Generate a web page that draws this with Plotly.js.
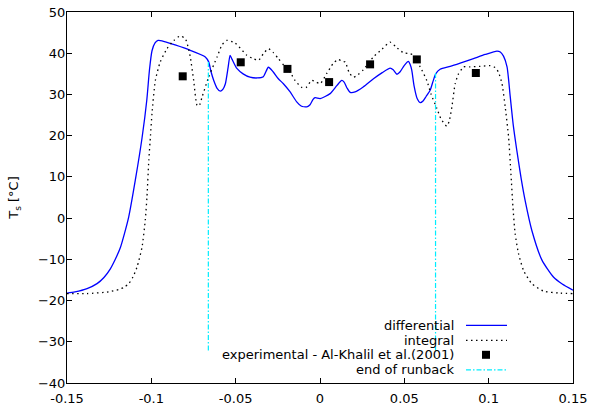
<!DOCTYPE html>
<html>
<head>
<meta charset="utf-8">
<script src="https://cdn.plot.ly/plotly-3.0.1.min.js"></script>
<style>html,body{margin:0;padding:0;background:#fff;}#chart{width:590px;height:411px;}</style>
</head>
<body>
<div id="chart"></div>
<script>
// Differential model (solid blue)
const diffX = [-0.1500,-0.1453,-0.1381,-0.1322,-0.1281,-0.1243,-0.1215,-0.1184,-0.1159,-0.1134,-0.1095,-0.1055,-0.1027,-0.1011,-0.0996,-0.0978,-0.0960,-0.0937,-0.0859,-0.0769,-0.0680,-0.0660,-0.0646,-0.0630,-0.0610,-0.0591,-0.0575,-0.0561,-0.0545,-0.0533,-0.0521,-0.0493,-0.0456,-0.0415,-0.0373,-0.0336,-0.0306,-0.0278,-0.0247,-0.0217,-0.0177,-0.0138,-0.0112,-0.0078,-0.0059,-0.0041,-0.0029,0.0001,0.0060,0.0101,0.0129,0.0143,0.0161,0.0179,0.0208,0.0256,0.0317,0.0369,0.0416,0.0434,0.0456,0.0475,0.0499,0.0524,0.0534,0.0544,0.0558,0.0576,0.0594,0.0611,0.0629,0.0653,0.0671,0.0686,0.0712,0.0772,0.0831,0.0910,0.0980,0.1049,0.1069,0.1088,0.1109,0.1128,0.1146,0.1167,0.1193,0.1216,0.1256,0.1316,0.1384,0.1436,0.1500];
const diffY = [-18.2,-17.9,-17.1,-15.9,-14.4,-12.3,-10.1,-7.2,-3.7,0.3,9.2,19.5,28.6,36.0,40.6,42.5,43.1,43.0,42.0,40.7,39.1,37.9,35.5,33.4,31.5,30.8,31.3,32.6,36.5,39.5,38.5,36.3,35.0,34.2,34.0,34.3,36.6,35.5,33.8,32.6,30.6,28.2,27.2,27.0,27.5,28.8,29.2,29.0,30.2,32.2,33.4,33.0,31.5,30.5,30.6,31.8,33.8,35.3,36.4,36.0,34.9,35.5,37.0,38.0,37.3,35.9,32.0,29.0,28.0,28.4,29.5,31.0,33.3,35.0,36.1,36.8,37.6,38.7,39.7,40.5,40.3,39.3,36.7,29.4,22.5,16.4,9.5,4.3,-3.0,-10.2,-14.3,-16.0,-17.5];

// Integral model (dotted black)
const intX = [-0.1500,-0.1381,-0.1253,-0.1193,-0.1162,-0.1134,-0.1109,-0.1085,-0.1055,-0.1036,-0.1026,-0.1015,-0.1005,-0.0996,-0.0976,-0.0947,-0.0907,-0.0867,-0.0828,-0.0798,-0.0782,-0.0769,-0.0749,-0.0729,-0.0717,-0.0699,-0.0660,-0.0610,-0.0581,-0.0553,-0.0504,-0.0434,-0.0403,-0.0365,-0.0337,-0.0306,-0.0278,-0.0247,-0.0213,-0.0177,-0.0148,-0.0108,-0.0082,-0.0049,-0.0023,0.0001,0.0040,0.0078,0.0109,0.0131,0.0149,0.0173,0.0198,0.0226,0.0257,0.0317,0.0368,0.0416,0.0451,0.0495,0.0534,0.0554,0.0594,0.0633,0.0659,0.0693,0.0718,0.0752,0.0766,0.0782,0.0801,0.0819,0.0843,0.0851,0.0890,0.0950,0.1009,0.1039,0.1058,0.1079,0.1098,0.1118,0.1132,0.1144,0.1157,0.1177,0.1207,0.1256,0.1325,0.1424,0.1500];
const intY = [-18.3,-18.3,-17.9,-17.3,-16.8,-15.9,-14.3,-11.9,-7.0,-0.5,5.1,14.0,20.0,25.4,33.4,37.9,41.1,43.1,44.2,43.5,41.5,39.1,33.4,27.4,27.2,29.4,34.2,39.1,42.0,43.1,42.5,39.5,38.8,38.3,39.8,41.1,40.2,38.7,37.0,35.4,33.4,31.7,31.7,33.4,33.0,32.6,35.1,37.5,38.5,38.0,37.9,35.3,34.2,34.8,36.0,39.1,41.0,42.7,41.5,40.1,39.9,39.5,36.7,33.4,30.0,26.6,24.0,22.3,23.5,27.0,32.5,34.8,36.3,36.7,36.7,36.8,37.0,36.5,35.4,32.6,27.0,19.7,10.8,2.7,-3.8,-8.6,-12.7,-15.9,-17.7,-18.2,-18.3];

// Experimental data - Al-Khalil et al. (2001)
const expX = [-0.0814,-0.0470,-0.0193,0.0054,0.0297,0.0574,0.0924];
const expY = [34.4,37.8,36.2,33.0,37.3,38.5,35.2];

// End of runback markers
const runbackX = [-0.0662,0.0685];
const runbackTop = [37.9,35.2];
const runbackBottom = -32.1;

// Axis ticks
const xTicks = [-0.15,-0.1,-0.05,0,0.05,0.1,0.15];
const xTickText = ['-0.15','-0.1','-0.05','0','0.05','0.1','0.15'];
const yTicks = [-40,-30,-20,-10,0,10,20,30,40,50];

const legendLabels = ['differential','integral','experimental - Al-Khalil et al.(2001)','end of runback'];

const BLUE = '#0000ff';
const CYAN = '#00eeff';
const FONT = 'DejaVu Sans, sans-serif';

const traces = [
  {x: diffX, y: diffY, mode:'lines', line:{color:BLUE, width:1.3, shape:'spline', smoothing:0.6}, showlegend:false, hoverinfo:'skip'},
  {x: intX, y: intY, mode:'lines', line:{color:'#000', width:1.3, dash:'1.5px,3.5px', shape:'spline', smoothing:0.6}, showlegend:false, hoverinfo:'skip'},
  {x: expX, y: expY, mode:'markers', marker:{symbol:'square', size:8, color:'#000'}, showlegend:false, hoverinfo:'skip'}
];
runbackX.forEach((rx,i)=>{
  traces.push({x:[rx,rx], y:[runbackTop[i], runbackBottom], mode:'lines', line:{color:CYAN, width:1.2, dash:'5px,2px,1.5px,2px'}, showlegend:false, hoverinfo:'skip'});
});

// Legend (text left of sample, like gnuplot)
const L = 67, R = 573, T = 11.7, B = 382.7;
const px = v => (v - L)/(R - L);
const py = v => (B - v)/(B - T);
const rows = [325, 340, 354.5, 369.5];
const annotations = legendLabels.map((t,i)=>({
  xref:'paper', yref:'paper', x:px(456), y:py(rows[i]), xanchor:'right', yanchor:'middle',
  text:t, showarrow:false, font:{family:FONT, size:13, color:'#000'}
}));
const shapes = [
  {type:'line', xref:'paper', yref:'paper', x0:px(466), x1:px(507), y0:py(rows[0]), y1:py(rows[0]), line:{color:BLUE, width:1.3}},
  {type:'line', xref:'paper', yref:'paper', x0:px(466), x1:px(507), y0:py(rows[1]), y1:py(rows[1]), line:{color:'#000', width:1.3, dash:'1.5px,3.5px'}},
  {type:'rect', xref:'paper', yref:'paper', x0:px(482), x1:px(490), y0:py(rows[2]-4), y1:py(rows[2]+4), fillcolor:'#000', line:{width:0}},
  {type:'line', xref:'paper', yref:'paper', x0:px(466), x1:px(507), y0:py(rows[3]), y1:py(rows[3]), line:{color:CYAN, width:1.2, dash:'5px,2px,1.5px,2px'}}
];

const axisCommon = {showgrid:false, zeroline:false, showline:true, linecolor:'#000', linewidth:1, mirror:'ticks', ticks:'inside', ticklen:5, tickcolor:'#000', tickfont:{family:FONT, size:13, color:'#000'}};

const layout = {
  width:590, height:411,
  margin:{l:67, r:17, t:11.7, b:28.3},
  paper_bgcolor:'#fff', plot_bgcolor:'#fff',
  showlegend:false,
  xaxis: Object.assign({}, axisCommon, {range:[-0.15,0.15], tickvals:xTicks, ticktext:xTickText, ticklabelstandoff:3}),
  yaxis: Object.assign({}, axisCommon, {range:[-40,50], tickvals:yTicks, ticklabelstandoff:-2, title:{text:'T<sub>s</sub> [°C]', font:{family:FONT, size:13, color:'#000'}, standoff:16}}),
  annotations: annotations,
  shapes: shapes
};

Plotly.newPlot('chart', traces, layout, {staticPlot:true, displayModeBar:false});
</script>
</body>
</html>
